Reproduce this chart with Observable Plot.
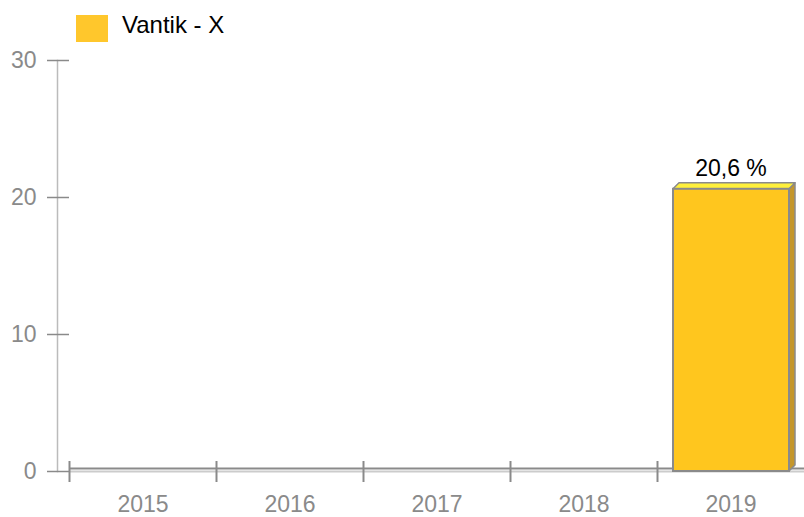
<!DOCTYPE html>
<html>
<head>
<meta charset="utf-8">
<script src="https://cdn.jsdelivr.net/npm/d3@7"></script>
<script src="https://cdn.jsdelivr.net/npm/@observablehq/plot@0.6"></script>
<style>
  html, body { margin: 0; padding: 0; background: #fff; }
  #wrap { position: relative; width: 804px; height: 517px; font-family: "Liberation Sans", Arial, sans-serif; }
  #legend { position: absolute; left: 76px; top: 14px; display: flex; align-items: center; font-size: 24px; color: #000; }
  #legend .sw { width: 32px; height: 27px; background: #FFC72C; margin-right: 14px; }
  #legend .lb { position: relative; top: -3px; }
</style>
</head>
<body>
<div id="wrap"><div id="legend"><span class="sw"></span><span class="lb">Vantik - X</span></div></div>
<script>
const years = ["2015", "2016", "2017", "2018", "2019"];
const shares = [null, null, null, null, 20.6];
const yTicks = [0, 10, 20, 30];
const seriesName = "Vantik - X";

const data = years.map((year, i) => ({year, value: shares[i]}));
const bars = data.filter(d => d.value != null);

const font = "'Liberation Sans', Arial, sans-serif";
const depth = 6;

function bar3d(index, scales, values, dimensions, context, next) {
  const g = next(index, scales, values, dimensions, context);
  const ns = "http://www.w3.org/2000/svg";
  for (const r of Array.from(g.querySelectorAll("rect"))) {
    const x0 = +r.getAttribute("x"), y0 = +r.getAttribute("y");
    const x1 = x0 + +r.getAttribute("width"), yb = y0 + +r.getAttribute("height");
    const top = document.createElementNS(ns, "polygon");
    top.setAttribute("points", `${x0},${y0} ${x1},${y0} ${x1 + depth},${y0 - depth} ${x0 + depth},${y0 - depth}`);
    top.setAttribute("fill", "#FFF03A");
    top.setAttribute("stroke", "#8a8a8a");
    top.setAttribute("stroke-width", 1.5);
    top.setAttribute("stroke-linejoin", "round");
    const side = document.createElementNS(ns, "polygon");
    side.setAttribute("points", `${x1},${y0} ${x1 + depth},${y0 - depth} ${x1 + depth},${yb - depth} ${x1},${yb}`);
    side.setAttribute("fill", "#C4962B");
    side.setAttribute("stroke", "#8a8a8a");
    side.setAttribute("stroke-width", 1.5);
    side.setAttribute("stroke-linejoin", "round");
    r.parentNode.insertBefore(side, r);
    r.parentNode.insertBefore(top, r);
  }
  return g;
}

const chart = Plot.plot({
  width: 804,
  height: 517,
  marginLeft: 69,
  marginRight: 0,
  marginTop: 60,
  marginBottom: 46,
  style: {fontFamily: font, fontSize: "23px", background: "transparent", overflow: "visible"},
  x: {domain: years, padding: 0, axis: null, label: null},
  y: {domain: [0, 30], axis: null, label: null},
  marks: [
    Plot.frame({anchor: "left", dx: -12, stroke: "#bbbbbb", strokeWidth: 1.5}),
    Plot.axisY({ticks: yTicks, label: null, tickSize: 22, tickPadding: 11, stroke: "#8a8a8a", color: "#8a8a8a", strokeWidth: 1.5, fontSize: 23, tickFormat: d => String(d)}),
    Plot.ruleY([0], {stroke: "#cccccc", strokeWidth: 2}),
    Plot.ruleY([0], {stroke: "#8a8a8a", strokeWidth: 2, dy: -3}),
    Plot.ruleX(years, {x: d => d, y1: 0, y2: 0, insetTop: -10, insetBottom: -11, dx: -73.5, stroke: "#8a8a8a", strokeWidth: 2}),
    Plot.axisX({label: null, tickSize: 0, tickPadding: 24, color: "#8a8a8a", fontSize: 23}),
    Plot.barY(bars, {x: "year", y: "value", fill: "#FFC61E", stroke: "#8a8a8a", strokeWidth: 2, insetLeft: 16, insetRight: 15, render: bar3d}),
    Plot.text(bars, {x: "year", y: "value", text: d => String(d.value).replace(".", ",") + " %", dy: -13, lineAnchor: "bottom", fill: "#000", fontSize: 23})
  ]
});
chart.setAttribute("aria-label", seriesName);
document.getElementById("wrap").prepend(chart);
</script>
</body>
</html>
